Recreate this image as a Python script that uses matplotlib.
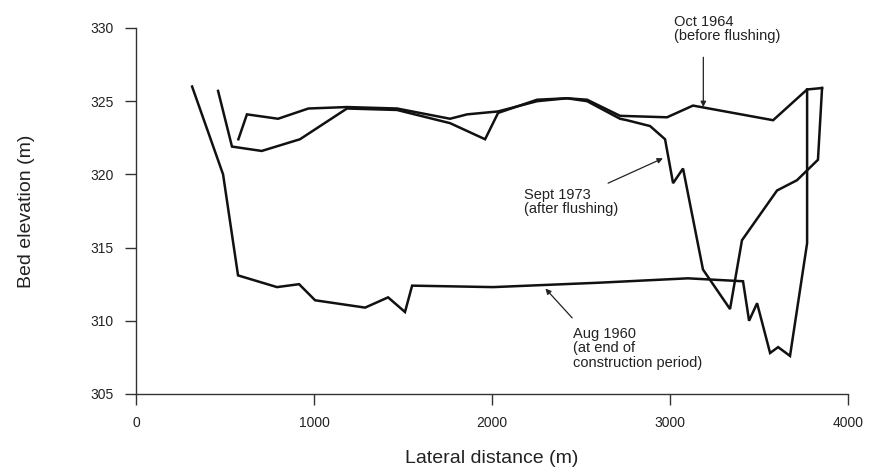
import matplotlib
matplotlib.use("Agg")
import matplotlib.pyplot as plt

plt.rcParams['font.family'] = ['Liberation Sans', 'DejaVu Sans']

# Cross-section survey profiles: lateral distance (m) and bed elevation (m)
aug1960_x = [315, 489, 573, 792, 916, 1006, 1287, 1416, 1511, 1551, 2006, 2600, 3100, 3410,
             3444, 3489, 3562, 3607, 3674, 3770, 3770]
aug1960_y = [326.0, 320.0, 313.1, 312.3, 312.5, 311.4, 310.9, 311.6, 310.6, 312.4, 312.3, 312.6, 312.9, 312.7,
             310.0, 311.2, 307.8, 308.2, 307.6, 315.3, 325.8]

oct1964_x = [575, 623, 798, 968, 1185, 1466, 1764, 1860, 2034, 2253, 2421, 2534, 2719, 2983,
             3129, 3579, 3770, 3854]
oct1964_y = [322.4, 324.1, 323.8, 324.5, 324.6, 324.5, 323.8, 324.1, 324.3, 325.0, 325.2, 325.1, 324.0, 323.9,
             324.7, 323.7, 325.8, 325.9]

sep1973_x = [461, 539, 706, 921, 1185, 1466, 1764, 1961, 2034, 2253, 2421, 2534, 2719, 2758, 2888,
             2972, 3017, 3073, 3185, 3337, 3404, 3601, 3713, 3831, 3854]
sep1973_y = [325.7, 321.9, 321.6, 322.4, 324.5, 324.4, 323.5, 322.4, 324.2, 325.1, 325.2, 325.0, 323.8, 323.7, 323.3,
             322.4, 319.4, 320.4, 313.5, 310.8, 315.5, 318.9, 319.6, 321.0, 325.9]

x_ticks = [0, 1000, 2000, 3000, 4000]
y_ticks = [305, 310, 315, 320, 325, 330]

fig = plt.figure(figsize=(8.81, 4.72), dpi=100)
ax = fig.add_axes([0.1544, 0.1653, 0.8082, 0.7754])

line_kw = dict(color='#111111', lw=1.8, solid_joinstyle='miter')
ax.plot(aug1960_x, aug1960_y, **line_kw)
ax.plot(oct1964_x, oct1964_y, **line_kw)
ax.plot(sep1973_x, sep1973_y, **line_kw)

ax.set_xlim(0, 4000)
ax.set_ylim(305, 330)
ax.set_xticks(x_ticks)
ax.set_yticks(y_ticks)
for s in ['top', 'right']:
    ax.spines[s].set_visible(False)
for s in ['left', 'bottom']:
    ax.spines[s].set_color('#333333')
    ax.spines[s].set_linewidth(1.0)
ax.tick_params(direction='out', length=8, width=1.0, colors='#333333', labelsize=10,
               labelcolor='#222222', pad=8)

ax.set_xlabel('Lateral distance (m)', fontsize=14, color='#222222', labelpad=14)
ax.set_ylabel('Bed elevation (m)', fontsize=14, color='#222222', labelpad=40)

arrow = dict(arrowstyle='-|>', color='#222222', lw=0.9, mutation_scale=8, shrinkA=0, shrinkB=0)
txt = dict(fontsize=10.5, color='#222222', linespacing=1.05)

ax.text(3020, 330.9, 'Oct 1964\n(before flushing)', ha='left', va='top', **txt)
ax.annotate('', xy=(3187, 324.6), xytext=(3187, 328.0), arrowprops=arrow)

ax.text(2180, 319.1, 'Sept 1973\n(after flushing)', ha='left', va='top', **txt)
ax.annotate('', xy=(2960, 321.1), xytext=(2652, 319.4), arrowprops=arrow)

ax.text(2455, 309.6, 'Aug 1960\n(at end of\nconstruction period)', ha='left', va='top', **txt)
ax.annotate('', xy=(2300, 312.2), xytext=(2450, 310.2), arrowprops=arrow)

fig.savefig('out.png', dpi=100)
